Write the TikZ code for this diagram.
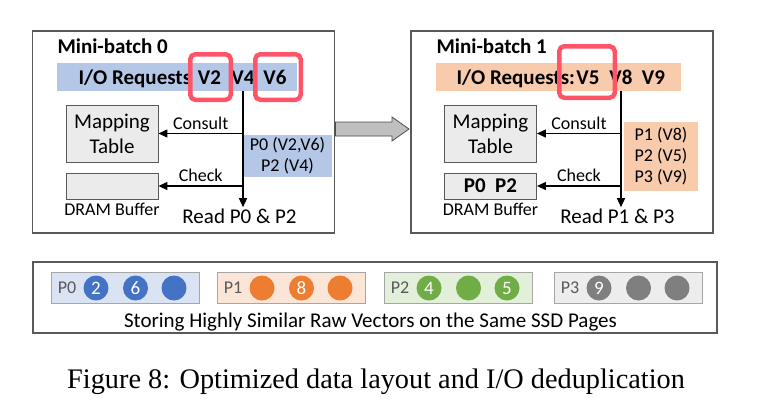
\documentclass[tikz,border=0pt]{standalone}
\usepackage{fontspec}
\setmainfont{Carlito}
\newfontfamily\capfont{Liberation Serif}
\usetikzlibrary{arrows.meta,positioning}

\definecolor{bandblue}{HTML}{B4C7E7}
\definecolor{bandorange}{HTML}{F8CBAD}
\definecolor{redhl}{HTML}{FF5468}
\definecolor{pgbluebg}{HTML}{DAE3F3}
\definecolor{pgblue}{HTML}{4472C4}
\definecolor{pgorangebg}{HTML}{FBE5D6}
\definecolor{pgorange}{HTML}{ED7D31}
\definecolor{pggreenbg}{HTML}{E2F0D9}
\definecolor{pggreen}{HTML}{70AD47}
\definecolor{pggraybg}{HTML}{EDEDED}
\definecolor{pggray}{HTML}{7F7F7F}

\newcommand{\txthd}{\bfseries\fontsize{21}{25}\selectfont}
\newcommand{\txtbig}{\fontsize{21}{25}\selectfont}
\newcommand{\txtsm}{\fontsize{18}{21}\selectfont}
\newcommand{\txtnum}{\fontsize{19}{22}\selectfont}

\begin{document}
\begin{tikzpicture}[x=1pt, y=-1pt, font=\txtsm,
  mbbox/.style={draw=black!65, line width=1.2pt, minimum width=302pt, minimum height=202pt, inner sep=0pt},
  reqband/.style={inner sep=0pt, minimum height=28pt},
  hilite/.style={draw=redhl, line width=4.5pt, rounded corners=5pt, inner sep=0pt},
  gbox/.style={draw=black!65, fill=black!8, line width=0.9pt, inner sep=0pt, minimum width=92pt},
  pglist/.style={inner sep=0pt, align=center},
  flow/.style={line width=1.3pt, -{Triangle[length=9pt,width=8pt]}},
  page/.style={draw=black!35, line width=0.9pt, minimum width=148pt, minimum height=31pt, inner sep=0pt},
  vec/.style={circle, minimum size=25pt, inner sep=0pt, text=white, font=\txtnum}]
\useasboundingbox (0,0) rectangle (768,408);

\node[mbbox] (mb0) at (183.5,132) {};
\node[anchor=base west, font=\txthd] (tit0) at (54,53) {Mini-batch 0};
\node[reqband, fill=bandblue, minimum width=240pt] (band0) at (177,77) {};
\node[anchor=base west, font=\txthd] (req0) at (75,84) {I/O Requests};
\node[anchor=base, font=\txthd] (v2) at (209.5,84) {V2};
\node[anchor=base, font=\txthd] (v4) at (243,84) {V4};
\node[anchor=base, font=\txthd] (v6) at (275,84) {V6};
\node[gbox, minimum height=57pt, align=center, font=\txtbig] (map0) at (112,133.5) {Mapping\\Table};
\node[gbox, minimum height=26pt] (dram0) at (112,186) {};
\node[below=2pt of dram0, inner sep=1pt] (buf0) {DRAM Buffer};
\node[pglist, fill=bandblue, minimum width=89pt, minimum height=42pt] (ids0) at (287.5,156) {P0 (V2,V6)\\P2 (V4)};
\node[anchor=base, font=\txtbig, inner sep=1pt] (read0) at (239.5,223) {Read P0 \& P2};
\coordinate (c0) at (v4 |- map0.east);
\coordinate (k0) at (v4 |- dram0.east);
\draw[flow] (v4 |- band0.south) -- (v4 |- read0.north);
\draw (c0) edge[flow] node[midway, above]{Consult} (map0.east);
\draw (k0) edge[flow] node[midway, above]{Check} (dram0.east);
\node[hilite, minimum width=40.5pt, minimum height=45.5pt] (hl0a) at (210.5,77) {};
\node[hilite, minimum width=45.5pt, minimum height=45.5pt] (hl0b) at (278,77) {};

\draw[fill=black!25, draw=black!70, line width=0.8pt] (335.5,122) -- (392,122) -- (392,117) -- (409,129) -- (392,141) -- (392,136) -- (335.5,136) -- cycle;

\node[mbbox] (mb1) at (562,132) {};
\node[anchor=base west, font=\txthd] (tit1) at (433,53) {Mini-batch 1};
\node[reqband, fill=bandorange, minimum width=245pt] (band1) at (558.5,77) {};
\node[anchor=base west, font=\txthd] (req1) at (453,84) {I/O Requests:};
\node[anchor=base, font=\txthd] (v5) at (588,84) {V5};
\node[anchor=base, font=\txthd] (v8) at (621,84) {V8};
\node[anchor=base, font=\txthd] (v9) at (653.5,84) {V9};
\node[gbox, minimum height=57pt, align=center, font=\txtbig] (map1) at (490.5,133.5) {Mapping\\Table};
\node[gbox, minimum height=26pt, font=\txthd] (dram1) at (490.5,186) {P0~~P2};
\node[below=2pt of dram1, inner sep=1pt] (buf1) {DRAM Buffer};
\node[pglist, fill=bandorange, minimum width=74pt, minimum height=69pt] (ids1) at (661,156.5) {P1 (V8)\\P2 (V5)\\P3 (V9)};
\node[anchor=base, font=\txtbig, inner sep=1pt] (read1) at (617.5,223) {Read P1 \& P3};
\coordinate (c1) at (v8 |- map1.east);
\coordinate (k1) at (v8 |- dram1.east);
\draw[flow] (v8 |- band1.south) -- (v8 |- read1.north);
\draw (c1) edge[flow] node[midway, above]{Consult} (map1.east);
\draw (k1) edge[flow] node[midway, above]{Check} (dram1.east);
\node[hilite, minimum width=55.5pt, minimum height=51.5pt] (hl1) at (587,72) {};

\node[draw=black!65, line width=1.2pt, minimum width=684pt, minimum height=71pt, inner sep=0pt] (ssd) at (375,297.5) {};
\foreach \p/\px/\bg/\fg/\la/\lb/\lc in {0/51/pgbluebg/pgblue/2/6/{},1/217/pgorangebg/pgorange/{}/8/{},2/384/pggreenbg/pggreen/4/{}/5,3/554/pggraybg/pggray/9/{}/{}} {
  \node[page, fill=\bg, anchor=west] (pg\p) at (\px,287.5) {};
  \node[text=black!65] (pl\p) at (\px+16,287.5) {P\p};
  \node[vec, fill=\fg] (pg\p v1) at (\px+45,288) {\la};
  \node[vec, fill=\fg] (pg\p v2) at (\px+84.5,288) {\lb};
  \node[vec, fill=\fg] (pg\p v3) at (\px+123,288) {\lc};
}
\node[anchor=base, font=\txtbig] (note) at (370.5,327) {Storing Highly Similar Raw Vectors on the Same SSD Pages};

\node[anchor=base west, font=\capfont\fontsize{28.3}{32}\selectfont, inner sep=0pt] (cap) at (67,388) {Figure 8: Optimized data layout and I/O deduplication};
\end{tikzpicture}
\end{document}
